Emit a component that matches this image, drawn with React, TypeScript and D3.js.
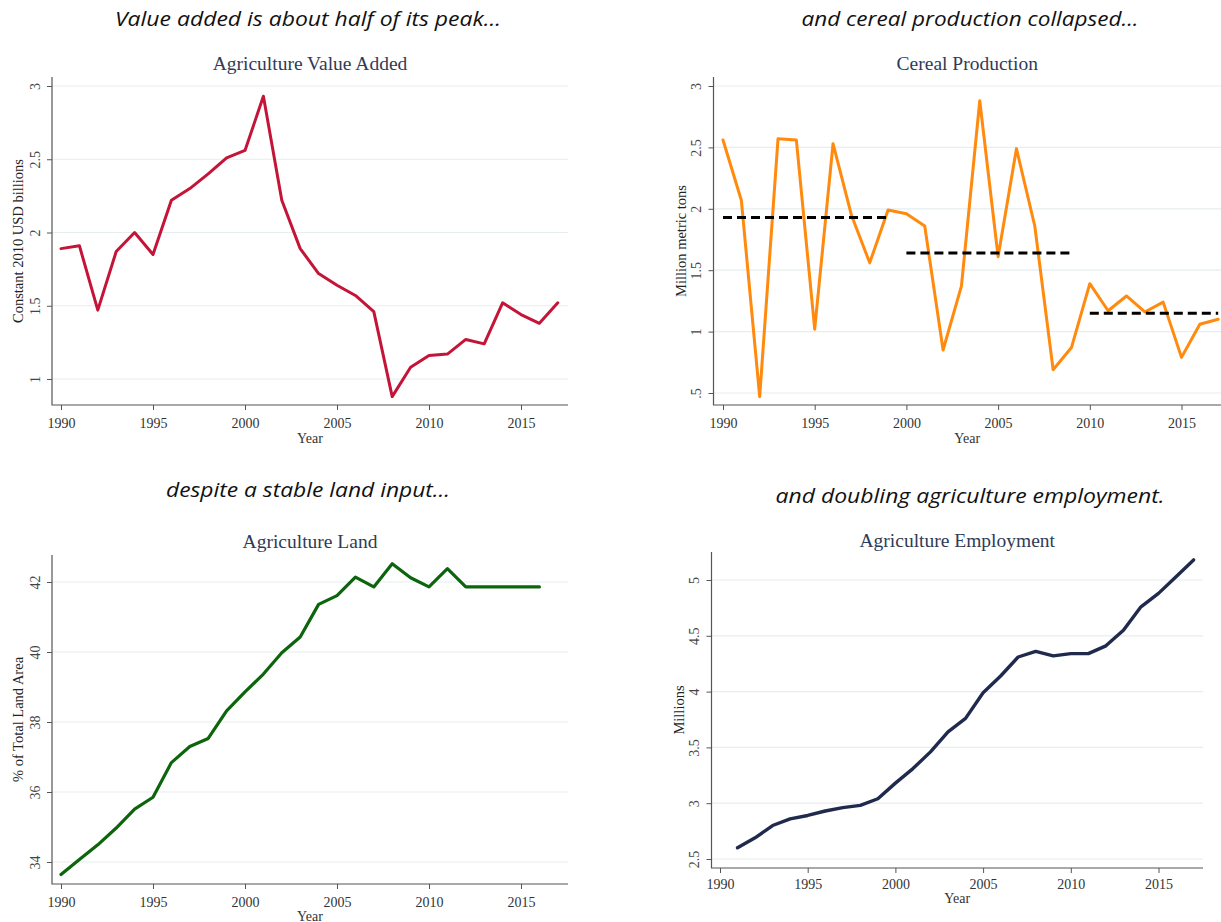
import { useRef, useEffect } from "react";
import { select, scaleLinear, line, axisBottom, axisLeft } from "d3";

// x axis ticks shared by every panel
const xTicks = [1990, 1995, 2000, 2005, 2010, 2015];

// Agriculture value added, constant 2010 USD billions
const valueAddedYears = [
  1990, 1991, 1992, 1993, 1994, 1995, 1996, 1997, 1998, 1999, 2000, 2001, 2002, 2003,
  2004, 2005, 2006, 2007, 2008, 2009, 2010, 2011, 2012, 2013, 2014, 2015, 2016, 2017,
];
const valueAdded = [
  1.89, 1.91, 1.47, 1.87, 2.0, 1.85, 2.22, 2.3, 2.4, 2.51, 2.56, 2.93, 2.22, 1.89,
  1.72, 1.64, 1.57, 1.46, 0.88, 1.08, 1.16, 1.17, 1.27, 1.24, 1.52, 1.44, 1.38, 1.52,
];
const valueAddedTicks = [1, 1.5, 2, 2.5, 3];

// Cereal production, million metric tons
const cerealYears = valueAddedYears;
const cereal = [
  2.56, 2.07, 0.47, 2.57, 2.56, 1.02, 2.53, 1.95, 1.56, 1.99, 1.96, 1.86, 0.85, 1.37,
  2.88, 1.61, 2.49, 1.86, 0.69, 0.87, 1.39, 1.17, 1.29, 1.16, 1.24, 0.79, 1.06, 1.1,
];
const cerealTicks = [0.5, 1, 1.5, 2, 2.5, 3];
// decade averages (dashed lines)
const cerealPeriodStart = [1990, 2000, 2010];
const cerealPeriodEnd = [1999, 2009, 2017];
const cerealPeriodMean = [1.93, 1.64, 1.15];

// Agriculture land, % of total land area
const landYears = [
  1990, 1991, 1992, 1993, 1994, 1995, 1996, 1997, 1998, 1999, 2000, 2001, 2002, 2003,
  2004, 2005, 2006, 2007, 2008, 2009, 2010, 2011, 2012, 2013, 2014, 2015, 2016,
];
const land = [
  33.64, 34.07, 34.49, 34.97, 35.51, 35.85, 36.84, 37.3, 37.53, 38.32, 38.86, 39.37, 39.98,
  40.43, 41.36, 41.61, 42.14, 41.86, 42.52, 42.12, 41.86, 42.38, 41.86, 41.86, 41.86,
  41.86, 41.86,
];
const landTicks = [34, 36, 38, 40, 42];

// Agriculture employment, millions
const employmentYears = [
  1991, 1992, 1993, 1994, 1995, 1996, 1997, 1998, 1999, 2000, 2001, 2002, 2003, 2004,
  2005, 2006, 2007, 2008, 2009, 2010, 2011, 2012, 2013, 2014, 2015, 2016, 2017,
];
const employment = [
  2.6, 2.69, 2.8, 2.86, 2.89, 2.93, 2.96, 2.98, 3.04, 3.18, 3.31, 3.46, 3.64, 3.76,
  3.99, 4.14, 4.31, 4.36, 4.32, 4.34, 4.34, 4.41, 4.55, 4.76, 4.88, 5.03, 5.18,
];
const employmentTicks = [2.5, 3, 3.5, 4, 4.5, 5];

const SERIF = "'Liberation Serif', 'DejaVu Serif', serif";
const HEAD = "'Open Sans', 'Noto Sans', sans-serif";

const fmtTick = (v) => (v < 1 ? String(v).replace(/^0/, "") : String(v));

const panels = [
  {
    title: "Agriculture Value Added",
    yLabel: "Constant 2010 USD billions",
    years: valueAddedYears,
    values: valueAdded,
    ticks: valueAddedTicks,
    color: "#c41438",
    width: 3,
    left: 52, right: 568, top: 77, bottom: 405,
    xr: [61, 521], yr: [379, 86],
    titleY: 63, tickY: 423, yearY: 438, yLabelX: 18,
  },
  {
    title: "Cereal Production",
    yLabel: "Million metric tons",
    years: cerealYears,
    values: cereal,
    ticks: cerealTicks,
    color: "#ff8a0d",
    width: 3,
    left: 713.5, right: 1221, top: 77, bottom: 405,
    xr: [723, 1181.5], yr: [393, 86],
    titleY: 63, tickY: 423, yearY: 438, yLabelX: 681,
    means: true,
  },
  {
    title: "Agriculture Land",
    yLabel: "% of Total Land Area",
    years: landYears,
    values: land,
    ticks: landTicks,
    color: "#0c650c",
    width: 3.2,
    left: 52, right: 568, top: 555, bottom: 884,
    xr: [61, 521], yr: [862, 582],
    titleY: 541, tickY: 902, yearY: 916, yLabelX: 18,
  },
  {
    title: "Agriculture Employment",
    yLabel: "Millions",
    years: employmentYears,
    values: employment,
    ticks: employmentTicks,
    color: "#1f2a4d",
    width: 3.4,
    left: 711.5, right: 1203, top: 552, bottom: 868,
    xr: [720, 1158.5], yr: [859, 580],
    titleY: 540, tickY: 884, yearY: 898, yLabelX: 679,
  },
];

const headings = [
  { text: "Value added is about half of its peak...", x: 308, y: 18, len: 386 },
  { text: "and cereal production collapsed...", x: 970, y: 18, len: 337 },
  { text: "despite a stable land input...", x: 308, y: 489, len: 284 },
  { text: "and doubling agriculture employment.", x: 970, y: 495, len: 389 },
];

function drawPanel(g, p) {
  const x = scaleLinear().domain([1990, 2015]).range(p.xr);
  const y = scaleLinear()
    .domain([p.ticks[0], p.ticks[p.ticks.length - 1]])
    .range(p.yr);

  // grid lines
  g.append("g")
    .selectAll("line")
    .data(p.ticks)
    .join("line")
    .attr("x1", p.left)
    .attr("x2", p.right)
    .attr("y1", (d) => y(d))
    .attr("y2", (d) => y(d))
    .attr("stroke", "#e6eef0")
    .attr("stroke-width", 1.2);

  // x axis
  const xAxisGroup = g
    .append("g")
    .attr("transform", `translate(0, ${p.bottom})`)
    .call(axisBottom(x).tickValues(xTicks).tickSize(5).tickFormat((d) => String(d)));
  xAxisGroup.select(".domain").remove();
  xAxisGroup.selectAll("line").attr("stroke", "#555");
  xAxisGroup
    .selectAll("text")
    .attr("y", null)
    .attr("dy", null)
    .attr("transform", `translate(0, ${p.tickY - p.bottom})`)
    .attr("dominant-baseline", "central")
    .attr("fill", "#333")
    .attr("font-family", SERIF)
    .attr("font-size", 14);

  // y axis with vertical labels
  const yAxisGroup = g
    .append("g")
    .attr("transform", `translate(${p.left}, 0)`)
    .call(axisLeft(y).tickValues(p.ticks).tickSize(5).tickFormat(fmtTick));
  yAxisGroup.select(".domain").remove();
  yAxisGroup.selectAll("line").attr("stroke", "#555");
  yAxisGroup
    .selectAll("text")
    .attr("x", null)
    .attr("dy", null)
    .attr("text-anchor", "middle")
    .attr("transform", "translate(-12.5, 0) rotate(-90)")
    .attr("fill", "#444")
    .attr("font-family", SERIF)
    .attr("font-size", 14);

  // axis lines
  g.append("path")
    .attr("d", `M${p.left},${p.top}V${p.bottom}H${p.right}`)
    .attr("fill", "none")
    .attr("stroke", "#555")
    .attr("stroke-width", 1.2);

  // series
  const path = line()
    .x((d, i) => x(p.years[i]))
    .y((d) => y(d));
  g.append("path")
    .attr("d", path(p.values))
    .attr("fill", "none")
    .attr("stroke", p.color)
    .attr("stroke-width", p.width)
    .attr("stroke-linejoin", "round")
    .attr("stroke-linecap", "round");

  if (p.means) {
    g.append("g")
      .selectAll("line")
      .data(cerealPeriodMean)
      .join("line")
      .attr("x1", (d, i) => x(cerealPeriodStart[i]))
      .attr("x2", (d, i) => x(cerealPeriodEnd[i]))
      .attr("y1", (d) => y(d))
      .attr("y2", (d) => y(d))
      .attr("stroke", "#000")
      .attr("stroke-width", 3)
      .attr("stroke-dasharray", "9,5");
  }

  // title
  g.append("text")
    .attr("x", (p.left + p.right) / 2)
    .attr("y", p.titleY)
    .attr("text-anchor", "middle")
    .attr("dominant-baseline", "central")
    .attr("font-family", SERIF)
    .attr("font-size", 19.5)
    .attr("fill", "#2f3b56")
    .text(p.title);

  // x axis title
  g.append("text")
    .attr("x", (p.left + p.right) / 2)
    .attr("y", p.yearY)
    .attr("text-anchor", "middle")
    .attr("dominant-baseline", "central")
    .attr("font-family", SERIF)
    .attr("font-size", 14)
    .attr("fill", "#333")
    .text("Year");

  // y axis title
  g.append("text")
    .attr("transform", `translate(${p.yLabelX}, ${(p.top + p.bottom) / 2}) rotate(-90)`)
    .attr("text-anchor", "middle")
    .attr("dominant-baseline", "central")
    .attr("font-family", SERIF)
    .attr("font-size", 14.5)
    .attr("fill", "#222")
    .text(p.yLabel);
}

export default function App() {
  const svgRef = useRef(null);

  useEffect(() => {
    const svgEl = select(svgRef.current);
    svgEl.selectAll("*").remove();

    svgEl
      .append("g")
      .selectAll("text")
      .data(headings)
      .join("text")
      .attr("x", (d) => d.x)
      .attr("y", (d) => d.y)
      .attr("text-anchor", "middle")
      .attr("dominant-baseline", "central")
      .attr("font-family", HEAD)
      .attr("font-style", "italic")
      .attr("font-size", 20)
      .attr("fill", "#111")
      .attr("textLength", (d) => d.len)
      .attr("lengthAdjust", "spacingAndGlyphs")
      .text((d) => d.text);

    panels.forEach((p) => drawPanel(svgEl.append("g"), p));
  }, []);

  return (
    <svg
      ref={svgRef}
      width={1221}
      height={922}
      style={{ position: "absolute", left: 0, top: 0, background: "#fff" }}
    ></svg>
  );
}
